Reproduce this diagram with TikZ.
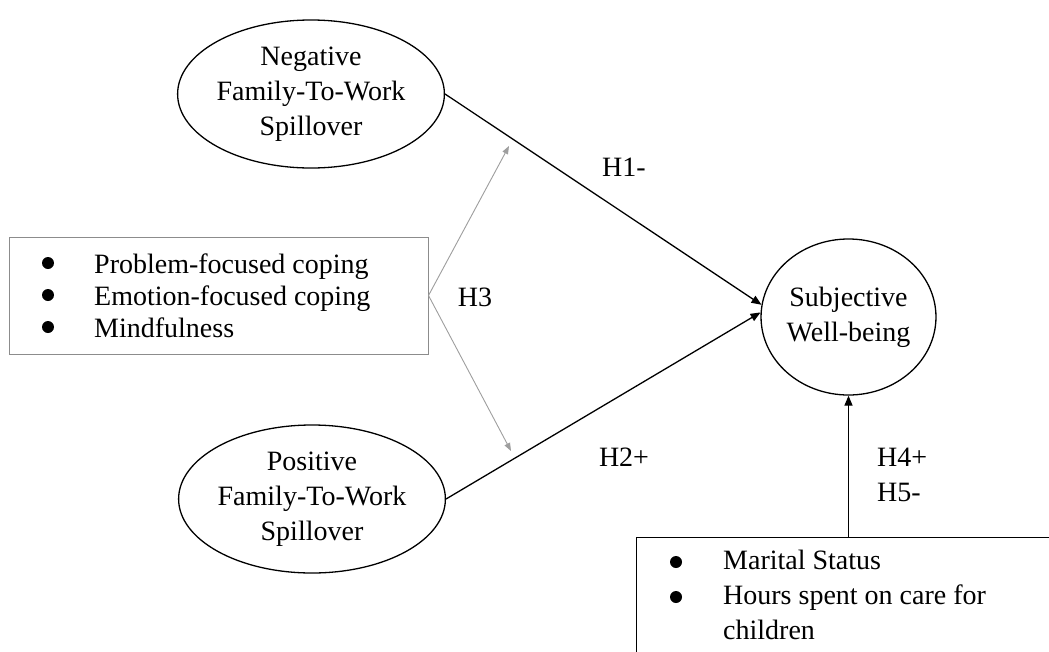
\documentclass[tikz,border=0pt]{standalone}
\usepackage{fontspec}
\setmainfont{Liberation Serif}
\usetikzlibrary{shapes.geometric,arrows.meta}
\newcommand{\semlatent}[3] {\node at (#1) (#2) [ellipse, draw, line width=1.3pt, minimum width=248pt, minimum height=148pt, align=center] {#3};}
\newcommand{\semoutcome}[3] {\node at (#1) (#2) [ellipse, draw, line width=1.3pt, minimum width=173pt, minimum height=156pt, align=center] {#3};}
\newcommand{\sembullet}[2] {\node at (#1) (#2) [circle, fill, minimum size=12pt] {};}
\newcommand{\semitem}[3] {\node at (#1) (#2) [anchor=base west] {#3};}
\newcommand{\sempath}[2] {\draw [-{Triangle[length=10pt,width=8pt]}, line width=1.3pt] (#1) -- (#2);}
\newcommand{\semmoderation}[2] {\draw [-{Triangle[length=8pt,width=6pt]}, line width=0.9pt, black!38] (#1) -- (#2);}
\newcommand{\semlabel}[3] {\node at (#1) (#2) [align=left] {#3};}

\begin{document}
\begin{tikzpicture}[x=1pt, y=-1pt, inner sep=0pt, font=\fontsize{28}{35}\selectfont]

\useasboundingbox (0,0) rectangle (1049,651);
\clip (0,0) rectangle (1049,651);

\semlatent{311,94}{negative}{Negative\\Family-To-Work\\Spillover}
\semlatent{312,499}{positive}{Positive\\Family-To-Work\\Spillover}
\semoutcome{848.5,317}{wellbeing}{Subjective\\Well-being}

% moderators
\node at (218.5,295.5) (moderators) [rectangle, draw=black!45, line width=1pt, minimum width=419pt, minimum height=117pt] {};
\sembullet{48,263}{bulleta}
\semitem{94,273}{itema}{Problem-focused coping}
\sembullet{48,295}{bulletb}
\semitem{94,305}{itemb}{Emotion-focused coping}
\sembullet{48,327}{bulletc}
\semitem{94,337}{itemc}{Mindfulness}

% controls
\node at (636,537) (controls) [anchor=north west, rectangle, draw, line width=1.3pt, minimum width=450pt, minimum height=150pt] {};
\sembullet{676,562}{bulletd}
\semitem{723,569}{itemd}{Marital Status}
\sembullet{676,597}{bullete}
\semitem{723,604}{iteme}{Hours spent on care for}
\semitem{723,639}{itemf}{children}
\coordinate (controlsout) at (848.5,537);

\coordinate (h3neg) at (509,146);
\coordinate (h3pos) at (511,451);

\sempath{negative.east}{wellbeing.172}
\sempath{positive.east}{wellbeing.177}
\sempath{controlsout}{wellbeing.south}
\semmoderation{moderators.east}{h3neg}
\semmoderation{moderators.east}{h3pos}

\semlabel{624,167}{hone}{H1-}
\semlabel{624,457}{htwo}{H2+}
\semlabel{475,297}{hthree}{H3}
\node at (877,474.5) (hfour) [anchor=west, align=left] {H4+\\H5-};

\end{tikzpicture}
\end{document}
